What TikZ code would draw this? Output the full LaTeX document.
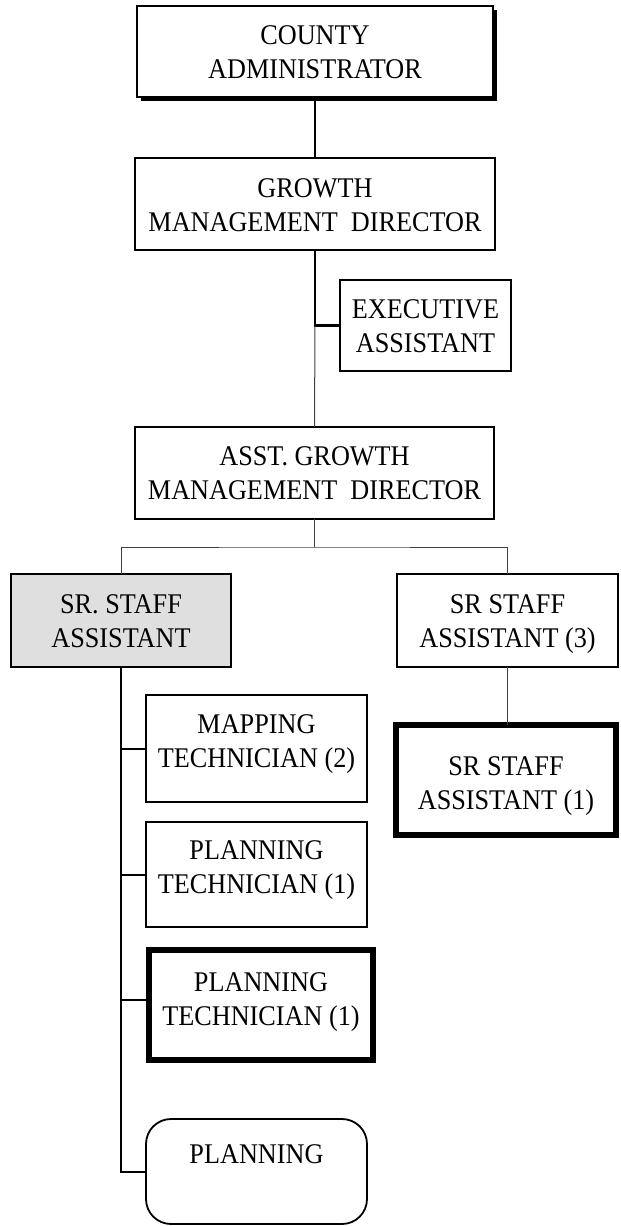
\documentclass[tikz,border=0pt]{standalone}
\usepackage{fontspec}
\setmainfont{Liberation Serif}[FakeStretch=0.92]
\usetikzlibrary{shadows}
\begin{document}
\begin{tikzpicture}[x=1pt, y=-1pt,
  orgbox/.style={draw=black, line width=1.8pt, fill=white, inner sep=0pt, outer sep=0pt},
  heavybox/.style={orgbox, line width=6pt},
  roundbox/.style={orgbox, rounded corners=25pt},
  txt/.style={font=\fontsize{28.5}{34}\selectfont, align=center, inner sep=0pt},
  trunk/.style={line width=2pt, draw=black},
  thinlink/.style={line width=1pt, draw=black!75}
]
\useasboundingbox (0,0) rectangle (621,1226);

% top of the chart
\node[orgbox, minimum width=356pt, minimum height=91pt,
      drop shadow={shadow xshift=3.5pt, shadow yshift=-3.5pt, fill=black, opacity=1}]
      (county) at (315,51.5) {};
\node[orgbox, minimum width=360pt, minimum height=92pt] (gmd) at (315,204) {};
\node[orgbox, minimum width=171pt, minimum height=91pt] (ea) at (425.5,325.5) {};
\node[orgbox, minimum width=359pt, minimum height=92pt] (asst) at (314.5,473) {};

% second level
\node[orgbox, fill=gray!25, minimum width=220pt, minimum height=93pt] (srs) at (121,620.5) {};
\node[orgbox, minimum width=221pt, minimum height=93pt] (sr3) at (507.5,620.5) {};
\node[heavybox, minimum width=220pt, minimum height=110pt] (sr1) at (506,780) {};

% staff under the senior staff assistant
\node[orgbox, line width=1.6pt, minimum width=221pt, minimum height=107pt] (mt) at (256.5,748.5) {};
\node[orgbox, line width=1.6pt, minimum width=221pt, minimum height=105pt] (pt1) at (256.5,874.5) {};
\node[heavybox, minimum width=224pt, minimum height=110pt] (pt2) at (261,1005) {};
\node[roundbox, minimum width=221pt, minimum height=105pt] (plan) at (256.5,1171.5) {};

% labels
\node[txt] (t-county) at (315,52) {COUNTY\\ADMINISTRATOR};
\node[txt] (t-gmd) at (315,205) {GROWTH\\MANAGEMENT~~DIRECTOR};
\node[txt] (t-ea) at (425.5,326) {EXECUTIVE\\ASSISTANT};
\node[txt] (t-asst) at (314.5,473) {ASST. GROWTH\\MANAGEMENT~~DIRECTOR};
\node[txt] (t-srs) at (121,621.5) {SR. STAFF\\ASSISTANT};
\node[txt] (t-sr3) at (507.5,624) {SR STAFF\\ASSISTANT (3)};
\node[txt] (t-sr1) at (506,786) {SR STAFF\\ASSISTANT (1)};
\node[txt] (t-mt) at (256.5,744) {MAPPING\\TECHNICIAN (2)};
\node[txt] (t-pt1) at (256.5,870) {PLANNING\\TECHNICIAN (1)};
\node[txt] (t-pt2) at (261,1002) {PLANNING\\TECHNICIAN (1)};
\node[txt] (t-plan) at (256.5,1154.5) {PLANNING};

% reporting lines
\coordinate (bus) at (314.5,547);
\coordinate (pt2tap) at ([yshift=5pt]pt2.west);
\draw[trunk] (county.south) -- (gmd.north);
\draw[trunk, line width=2.4pt] (gmd.south) |- (ea.west);
\draw[thinlink] (gmd.south |- ea.west) -- (asst.north);
\draw[thinlink] (asst.south) -- (bus);
\draw[thinlink] (srs.north) |- (bus) -| (sr3.north);
\draw[thinlink] (sr3.south) -- (sr3.south |- sr1.north);
\draw[trunk] (srs.south) |- (plan.west);
\draw[trunk] (srs.south |- mt.west) -- (mt.west);
\draw[trunk] (srs.south |- pt1.west) -- (pt1.west);
\draw[trunk] (srs.south |- pt2tap) -- (pt2tap);
\end{tikzpicture}
\end{document}
